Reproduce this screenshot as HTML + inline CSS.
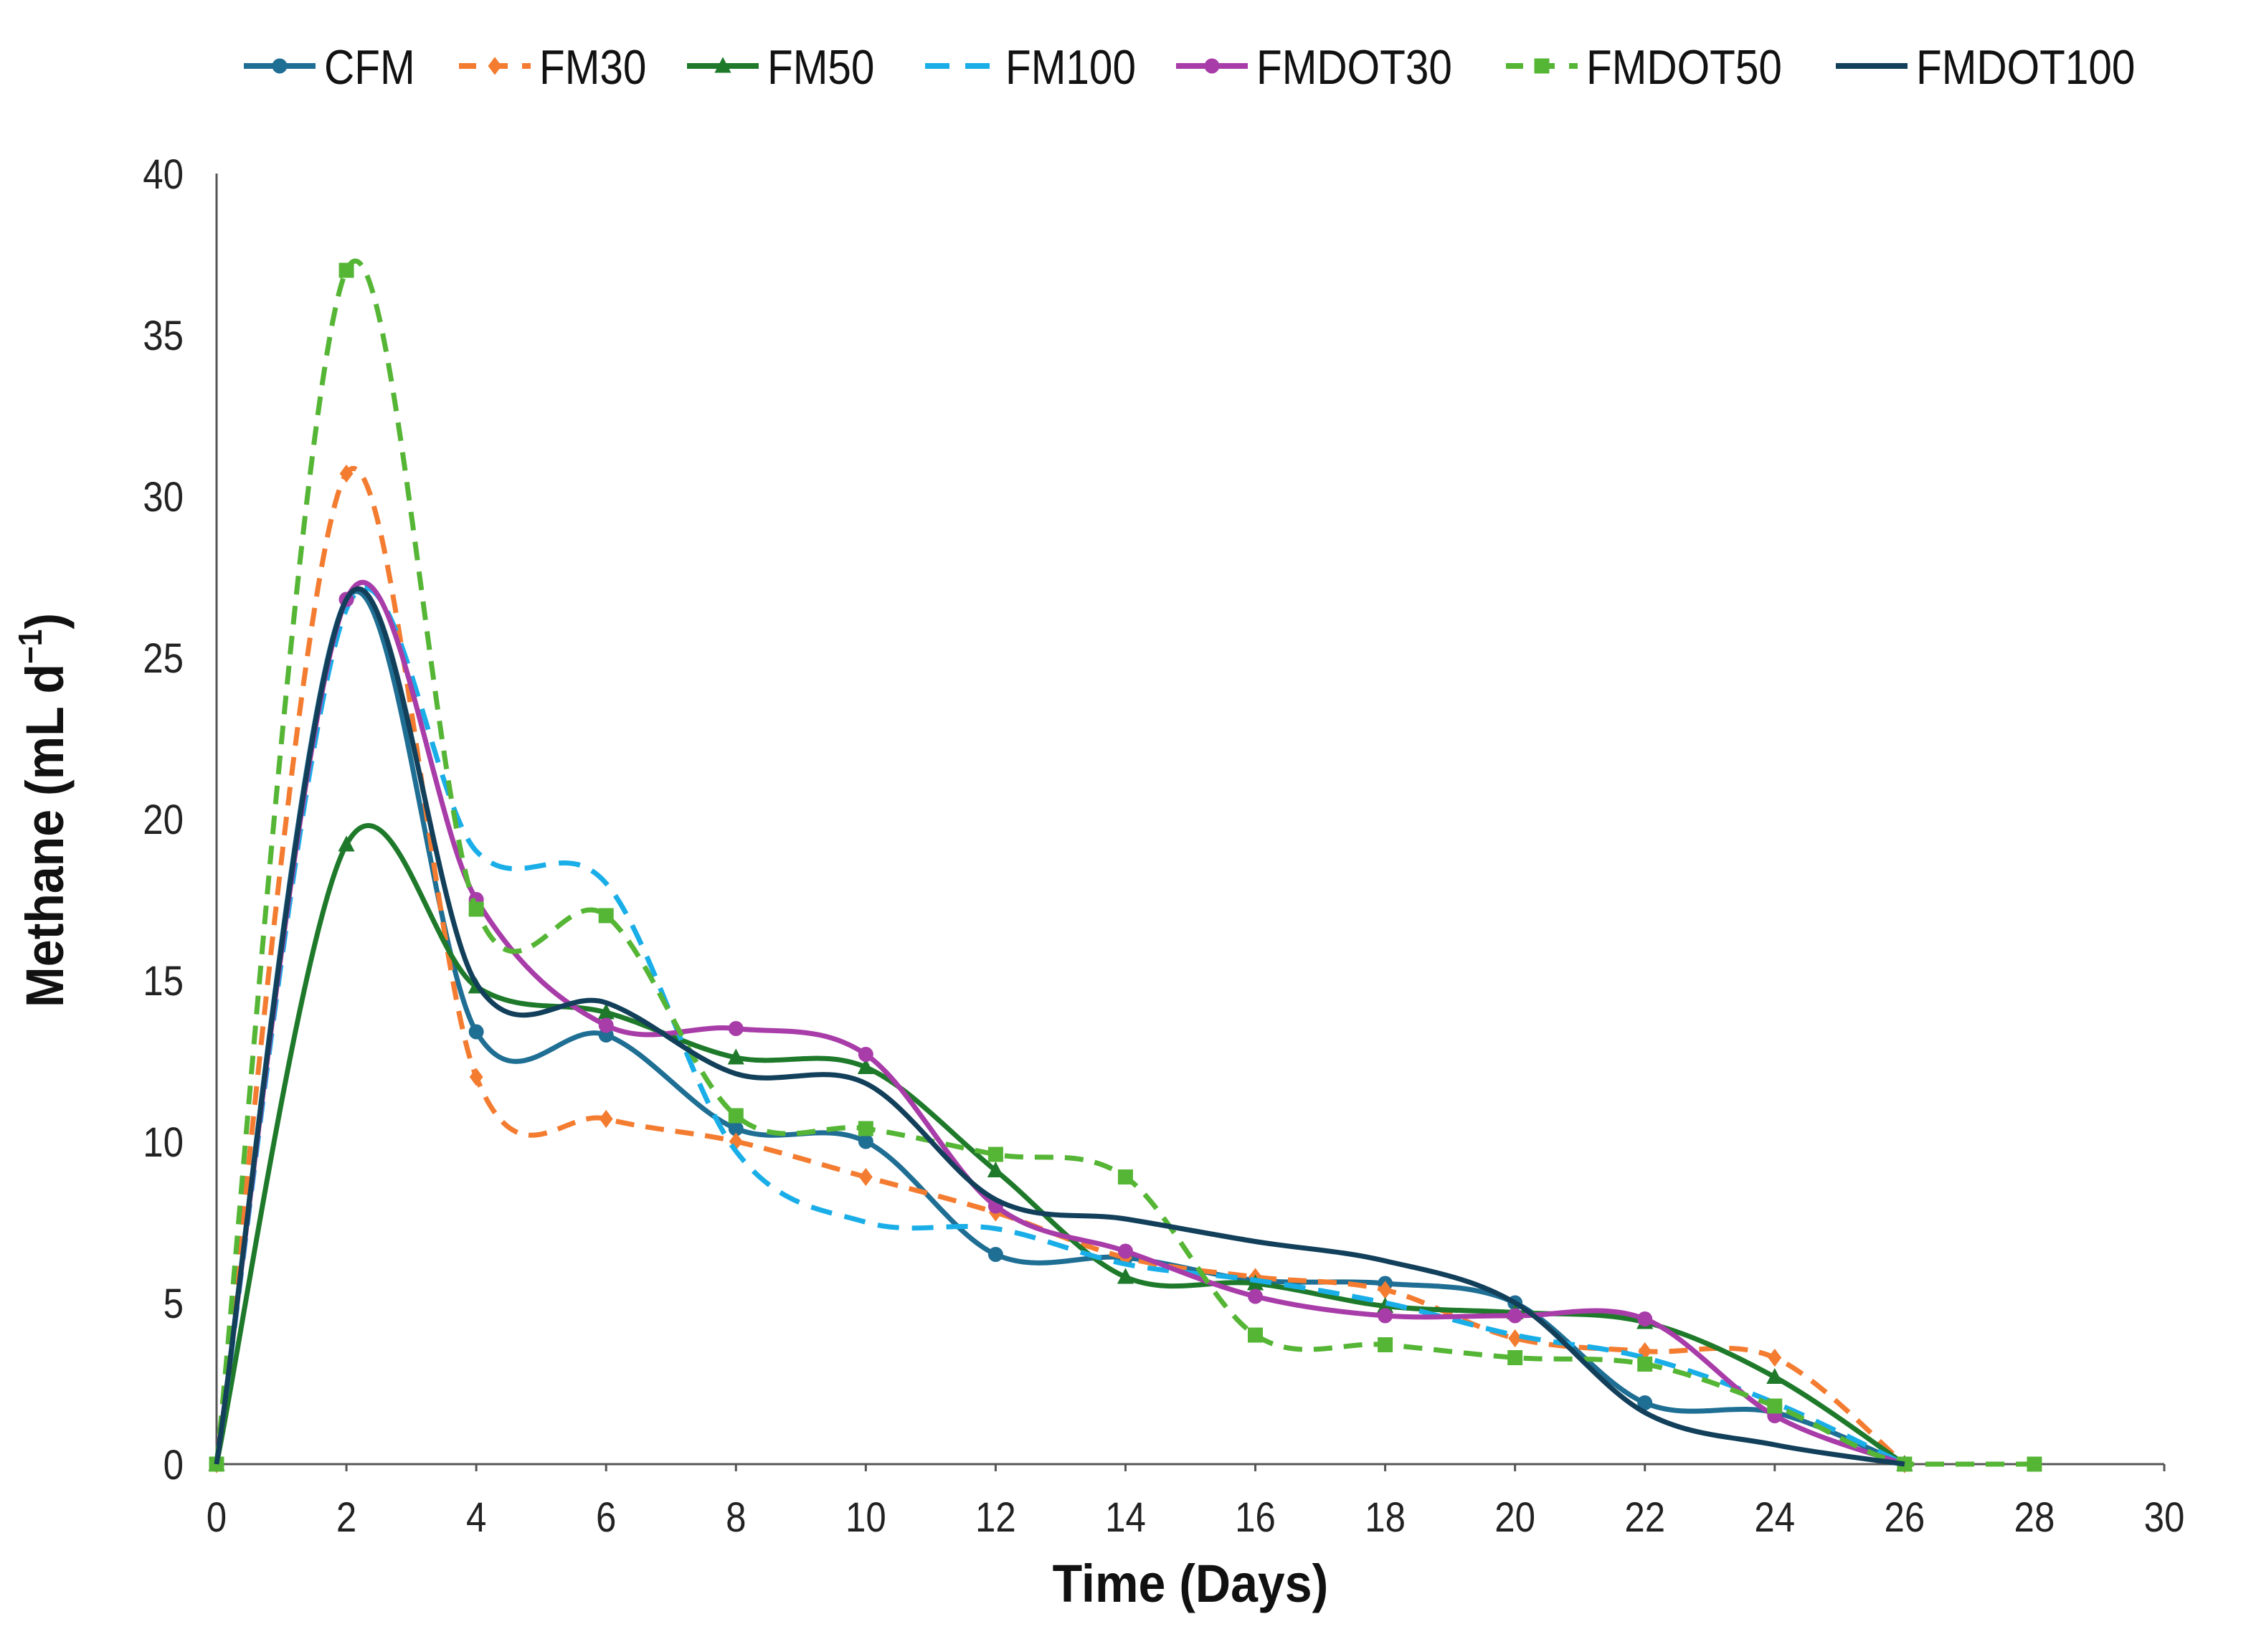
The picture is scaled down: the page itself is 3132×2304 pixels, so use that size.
<!DOCTYPE html>
<html><head><meta charset="utf-8"><style>
html,body{margin:0;padding:0;background:#fff;}
svg{display:block;font-family:"Liberation Sans",sans-serif;}
</style></head><body>
<svg id="chart" width="3132" height="2304" viewBox="0 0 3132 2304" xmlns="http://www.w3.org/2000/svg">
<rect width="3132" height="2304" fill="#fff"/>
<g id="axes"></g>
<g id="series"></g>
<g id="legend"></g>
<text transform="translate(1660,2234) scale(0.92,1)" font-size="74" font-weight="bold" text-anchor="middle" fill="#111">Time (Days)</text>
<text transform="translate(88,1130) rotate(-90) scale(0.92,1)" font-size="74" font-weight="bold" text-anchor="middle" fill="#111">Methane (mL d<tspan font-size="46" dy="-30">−1</tspan><tspan dy="30">)</tspan></text>
</svg>
<script>
const days=[0,2,4,6,8,10,12,14,16,18,20,22,24,26];
const seriesNames=["CFM","FM30","FM50","FM100","FMDOT30","FMDOT50","FMDOT100"];
const cfm=[0,26.8,13.4,13.3,10.4,10.0,6.5,6.4,5.7,5.6,5.0,1.9,1.6,0];
const fm30=[0,30.7,12.0,10.7,10.0,8.9,7.8,6.4,5.8,5.4,3.9,3.5,3.3,0];
const fm50=[0,19.2,14.8,14.0,12.6,12.3,9.1,5.8,5.6,4.9,4.7,4.4,2.7,0];
const fm100=[0,26.5,19.0,18.0,9.7,7.5,7.3,6.2,5.7,5.0,4.0,3.3,1.9,0];
const fmdot30=[0,26.8,17.5,13.6,13.5,12.7,8.0,6.6,5.2,4.6,4.6,4.5,1.5,0];
const fmdot50=[0,37.0,17.2,17.0,10.8,10.4,9.6,8.9,4.0,3.7,3.3,3.1,1.8,0,0];
const fmdot100=[0,26.8,14.9,14.3,12.1,11.8,8.2,7.6,6.9,6.3,5.0,1.6,0.6,0];
const xTicks=[0,2,4,6,8,10,12,14,16,18,20,22,24,26,28,30];
const yTicks=[0,5,10,15,20,25,30,35,40];

const NS="http://www.w3.org/2000/svg";
const X0=302,X1=3018,Y0=2042,Y1=242;
const xs=v=>X0+(v/30)*(X1-X0);
const ys=v=>Y0-(v/40)*(Y0-Y1);
function mk(tag,attrs,parent){const e=document.createElementNS(NS,tag);for(const k in attrs)e.setAttribute(k,attrs[k]);parent.appendChild(e);return e;}
const axes=document.getElementById('axes');
let a=mk('line',{x1:X0,y1:Y1,x2:X0,y2:Y0,stroke:'#555','stroke-width':3},axes);


a=mk('line',{x1:X0,y1:Y0,x2:X1,y2:Y0,stroke:'#555','stroke-width':3},axes);


xTicks.forEach(t=>{
  const tk=mk('line',{x1:xs(t),y1:Y0,x2:xs(t),y2:Y0+10,stroke:'#555','stroke-width':3},axes);
  
  
  const tx=mk('text',{transform:`translate(${xs(t)},${Y0+94}) scale(0.88,1)`,'font-size':58,'text-anchor':'middle',fill:'#222'},axes);
  tx.textContent=t;
  
  
});
yTicks.forEach(t=>{
  const tx=mk('text',{transform:`translate(256,${ys(t)+21}) scale(0.88,1)`,'font-size':58,'text-anchor':'end',fill:'#222'},axes);
  tx.textContent=t;
  
  
});
const cols=["#1f6e94","#f47c30","#1e7a2a","#1aaee8","#a83ca8","#55b535","#123f5a"];
const dashes=[null,"26,16",null,"30,18",null,"26,16",null];
const markers=["circle","diamond","triangle",null,"circle","square",null];
const data=[cfm,fm30,fm50,fm100,fmdot30,fmdot50,fmdot100];
function pathD(pts){
  let d=`M${pts[0][0]},${pts[0][1]}`;
  const cl=y=>Math.min(y,Y0);
  for(let i=0;i<pts.length-1;i++){
    const p0=pts[Math.max(0,i-1)],p1=pts[i],p2=pts[i+1],p3=pts[Math.min(pts.length-1,i+2)];
    const t=1/6;
    d+=` C${p1[0]+(p2[0]-p0[0])*t},${cl(p1[1]+(p2[1]-p0[1])*t)} ${p2[0]-(p3[0]-p1[0])*t},${cl(p2[1]-(p3[1]-p1[1])*t)} ${p2[0]},${p2[1]}`;
  }
  return d;
}
function marker(type,x,y,c,g,s){
  let m;
  if(type==="circle")m=mk('circle',{cx:x,cy:y,r:s*0.5,fill:c},g);
  else if(type==="diamond")m=mk('polygon',{points:`${x},${y-s*0.6} ${x+s*0.45},${y} ${x},${y+s*0.6} ${x-s*0.45},${y}`,fill:c},g);
  else if(type==="triangle")m=mk('polygon',{points:`${x},${y-s*0.6} ${x+s*0.55},${y+s*0.45} ${x-s*0.55},${y+s*0.45}`,fill:c},g);
  else if(type==="square")m=mk('rect',{x:x-s*0.5,y:y-s*0.5,width:s,height:s,fill:c},g);
  return m;
}
const sg=document.getElementById('series');
data.forEach((arr,si)=>{
  const g=mk('g',{},sg);
  
  
  const pts=arr.map((v,i)=>[xs(i*2),ys(v)]);
  const attrs={d:pathD(pts),fill:'none',stroke:cols[si],'stroke-width':7,'stroke-linejoin':'round'};
  if(dashes[si])attrs['stroke-dasharray']=dashes[si];
  const p=mk('path',attrs,g);
  
  
  if(markers[si])pts.forEach(pt=>{
    const m=marker(markers[si],pt[0],pt[1],cols[si],g,21);
    
    
  });
});
const lg=document.getElementById('legend');
const lx=[340,640,958,1290,1640,2100,2560];
seriesNames.forEach((n,i)=>{
  const g=mk('g',{},lg);
  
  
  const la={x1:lx[i],y1:92,x2:lx[i]+100,y2:92,stroke:cols[i],'stroke-width':8};
  if(dashes[i])la['stroke-dasharray']=(i===3?"34,22":"24,20");
  mk('line',la,g);
  if(markers[i])marker(markers[i],lx[i]+50,92,cols[i],g,21);
  const t=mk('text',{transform:`translate(${lx[i]+112},117) scale(0.86,1)`,'font-size':68,fill:'#111'},g);
  t.textContent=n;
});
</script>
</body></html>
